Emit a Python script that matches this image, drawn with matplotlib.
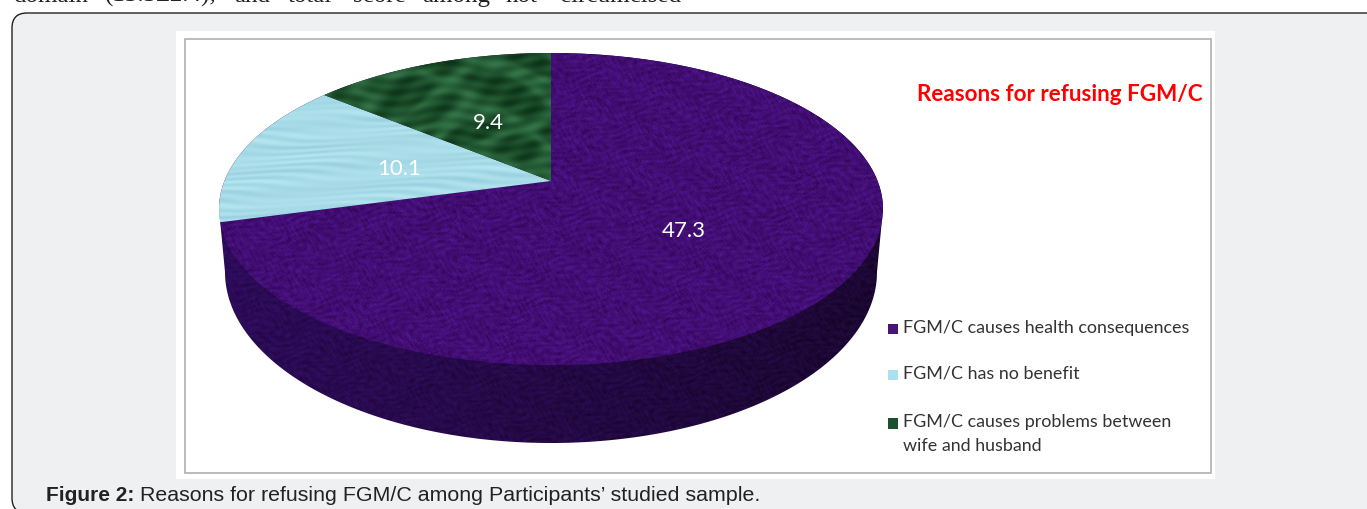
import numpy as np
import matplotlib
matplotlib.use('Agg')
import matplotlib.pyplot as plt
from matplotlib.patches import Rectangle, FancyBboxPatch, Polygon

# Chart data
categories = ['FGM/C causes health consequences', 'FGM/C has no benefit',
              'FGM/C causes problems between\nwife and husband']
values = [47.3, 10.1, 9.4]
legend_colors = ['#4a1378', '#a9e2ee', '#1c5030']
title = 'Reasons for refusing FGM/C'
caption_bold = 'Figure 2:'
caption_rest = ' Reasons for refusing FGM/C among Participants\u2019 studied sample.'
page_words = ['domain', '(13.3\u00b12.4),', 'and', 'total', 'score', 'among', 'not', 'circumcised']
page_word_x = [13, 105, 234, 288, 353, 422, 505, 560]

W, H = 1367, 509

# Perspective of the pie top: unit disc to pixels
APEX_X, APEX_Y = 551, 181
PERSP = 0.1795
SCALE_X = 326.6
SCALE_Y = -118.5

def project(px, py):
    den = 1 + PERSP * py
    return APEX_X + SCALE_X * px / den, (APEX_Y + SCALE_Y * py) / den

yy, xx = np.mgrid[0:H, 0:W].astype(float)

# Surface textures, built from sines only
def mottled():
    a = np.sin(xx * 1.73 + 7 * np.sin(yy * 0.71 + xx * 0.11)) * np.sin(yy * 2.11 + 7 * np.sin(xx * 0.53 - yy * 0.17))
    b = np.sin(xx * 0.61 + yy * 0.37 + 9 * np.sin(yy * 0.13 - xx * 0.07))
    c = np.sin(xx * 0.19 + 3 * np.sin(yy * 0.23)) * np.sin(yy * 0.31 + 3 * np.sin(xx * 0.13))
    d = np.sin(yy * 0.83 + 6 * np.sin(xx * 0.09 + yy * 0.05))
    return 0.5 * a + 0.25 * b + 0.45 * c + 0.25 * d

def rgb(base, amp, m):
    out = np.stack([base[i] + amp[i] * m for i in range(3)], axis=-1)
    return np.clip(out / 255.0, 0, 1)

def purple_top():
    return rgb((66, 14, 116), (13, 7, 24), mottled())

def water():
    fade = 0.6 + 0.4 * np.sin(xx * 0.031 + 2 * np.sin(yy * 0.07))
    m = fade * np.sin(yy * 0.9 + 2.4 * np.sin(xx * 0.037 + yy * 0.13)) + 0.4 * np.sin(yy * 0.29 + xx * 0.02)
    return rgb((168, 220, 232), (10, 8, 6), m)

def marble():
    w = np.sin(xx * 0.031 + 2.0 * np.sin(yy * 0.047)) * np.sin(yy * 0.067 + 2.0 * np.sin(xx * 0.029))
    veins = np.exp(-(w * 2.4) ** 2)
    streak = 0.25 * np.sin(yy * 0.55 + 2 * np.sin(xx * 0.06)) + 0.2 * np.sin(xx * 0.21 + yy * 0.17)
    return rgb((22, 68, 36), (22, 36, 26), 0.9 * veins + streak)

def side_shade():
    t = np.clip((xx - 220) / 660, 0, 1)[..., None]
    left = np.array([44, 11, 88.0])
    right = np.array([27, 7, 50.0])
    shade = left * (1 - t) + right * t
    m = mottled()[..., None]
    return np.clip((shade + m * np.array([8, 4, 15.0])) / 255.0, 0, 1)

fig = plt.figure(figsize=(W / 100, H / 100), dpi=100, facecolor='white')
ax = fig.add_axes([0, 0, 1, 1])
ax.axis('off')

# Page panel and picture frame
ax.add_patch(FancyBboxPatch((27, 28), W + 60, 470, boxstyle='round,pad=15,rounding_size=15',
                            facecolor='#eff0f2', edgecolor='#222222', linewidth=1.0))
ax.add_patch(Rectangle((176, 31), 1039, 448, facecolor='white', edgecolor='none'))
ax.add_patch(Rectangle((185, 38.5), 1025.5, 434, facecolor='white', edgecolor='#a9a9a9', linewidth=1.1))

def textured(points, image, z):
    poly = Polygon(points, closed=True, facecolor='none', edgecolor='none', transform=ax.transData)
    ax.add_patch(poly)
    im = ax.imshow(image, extent=(0, W, H, 0), aspect='auto', zorder=z, interpolation='bilinear')
    im.set_clip_path(poly)

# Side wall: lower half of the base ellipse, then the rim back over the top
low = np.linspace(np.pi, 0, 200)
base = np.column_stack([551 + 326 * np.cos(low), 272 + 171 * np.sin(low)])
t = np.linspace(np.pi / 2 + 0.18, -np.pi / 2 - 0.18, 300)
upper = np.column_stack(project(np.sin(t), np.cos(t)))
textured(np.vstack([base, upper]), side_shade(), 2)

# Pie slices from the values, clockwise from twelve o'clock
textures = [purple_top(), water(), marble()]
edges = np.cumsum([0] + values) / sum(values) * 2 * np.pi
for i, val in enumerate(values):
    th = np.linspace(edges[i], edges[i + 1], 200)
    arc = np.column_stack(project(np.sin(th), np.cos(th)))
    textured(np.vstack([[APEX_X, APEX_Y], arc]), textures[i], 3)
    mid = (edges[i] + edges[i + 1]) / 2
    lx, ly = project(0.485 * np.sin(mid), 0.485 * np.cos(mid))
    ax.text(lx, ly + 3, f'{val}', color='white', fontsize=16, family='Lato', ha='center', va='center', zorder=5)

# Title and legend
ax.text(917, 94, title, color='#ff0000', fontsize=16.2, family='Lato', weight='bold', va='center')
legend_y = [328.5, 374.5, 423]
for name, col, ly in zip(categories, legend_colors, legend_y):
    ax.add_patch(Rectangle((888, ly - 5), 9.5, 10.5, facecolor=col, edgecolor='none', zorder=5))
    ax.text(903, ly - 9, name, color='#333333', fontsize=12.9, family='Lato', va='top', linespacing=1.62)

# Caption
renderer = fig.canvas.get_renderer()
cap = ax.text(46, 495.5, caption_bold, color='#222222', fontsize=15, family='Liberation Sans',
              weight='bold', va='center')
ax.set_xlim(0, W)
ax.set_ylim(H, 0)
x_end = ax.transData.inverted().transform(cap.get_window_extent(renderer))[1, 0]
ax.text(x_end, 495.5, caption_rest, color='#222222', fontsize=15.4, family='Liberation Sans', va='center')

# Running text of the page, cut off by the top edge
for word, wx in zip(page_words, page_word_x):
    ax.text(wx, 2, word, color='#222222', fontsize=18, family='Liberation Serif', va='baseline')

ax.set_xlim(0, W)
ax.set_ylim(H, 0)
fig.savefig('out.png', dpi=100)
